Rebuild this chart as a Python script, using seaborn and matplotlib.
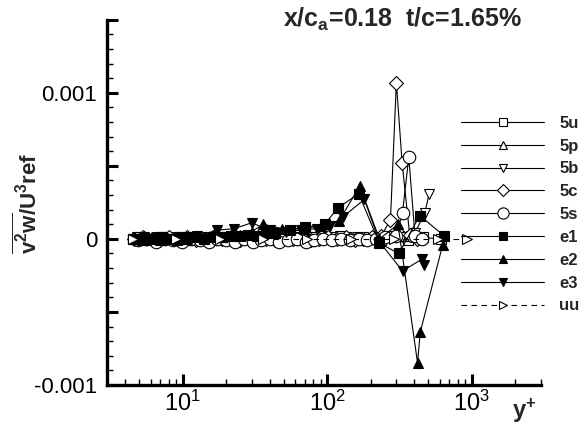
import numpy as np
import matplotlib
matplotlib.use('Agg')
import matplotlib.pyplot as plt
import matplotlib.ticker as mticker
import seaborn as sns

sns.set_style('white')
plt.rcParams['font.family'] = ['Liberation Sans', 'DejaVu Sans']
plt.rcParams['mathtext.fontset'] = 'custom'
plt.rcParams['mathtext.rm'] = 'Liberation Sans'
plt.rcParams['mathtext.it'] = 'Liberation Sans:italic'
plt.rcParams['mathtext.bf'] = 'Liberation Sans:bold'

# y+ positions and v2w/U3ref values (values in units of 1e-4)
yp_5u = [4.5, 5.2, 6.0, 6.9, 8.0, 9.2, 10.6, 12.2, 14.1, 16.2, 18.7, 21.5, 24.8, 28.5, 32.8, 37.8,
         43.5, 50.1, 57.7, 66.4, 76.5, 88.1, 101, 117, 134, 155, 178, 205, 236, 272, 313, 360, 414, 460, 610]
v_5u = [0.0, 0.1, -0.1, 0.0, 0.1, -0.1, 0.0, 0.1, 0.0, -0.1, 0.1, 0.0, 0.1, 0.0, -0.1, 0.1,
        0.0, 0.1, 0.0, -0.1, 0.1, 0.0, 0.1, 0.0, 0.1, 0.0, 0.1, 0.0, -0.1, 0.1, 0.2, -0.1, 0.1, 0.1, 0.0]

yp_5p = [4.7, 5.4, 6.2, 7.2, 8.3, 9.5, 11.0, 12.6, 14.5, 16.7, 19.3, 22.2, 25.5, 29.4, 33.8, 38.9,
         44.8, 51.6, 59.4, 68.4, 78.8, 90.7, 104, 120, 138, 160, 184, 211, 243, 280, 322, 371]
v_5p = [0.0, -0.1, 0.1, 0.0, 0.1, 0.0, -0.1, 0.1, 0.0, 0.1, 0.0, -0.1, 0.1, 0.0, 0.2, 0.0,
        0.1, -0.1, 0.1, 0.0, 0.1, 0.0, 0.1, 0.0, 0.1, 0.1, 0.0, 0.1, 0.2, 0.1, 0.5, 0.2]

yp_5b = [4.8, 5.5, 6.4, 7.3, 8.4, 9.7, 11.2, 12.9, 14.8, 17.0, 19.6, 22.6, 26.0, 30.0, 34.5, 39.7,
         45.7, 52.6, 60.5, 69.7, 80.2, 92.3, 106, 122, 141, 162, 187, 215, 248, 285, 328, 378, 405, 474, 508]
v_5b = [0.1, 0.0, -0.1, 0.1, 0.0, 0.1, -0.1, 0.0, 0.1, 0.0, 0.1, -0.1, 0.0, 0.1, 0.0, 0.2,
        0.1, 0.0, 0.1, -0.1, 0.1, 0.0, 0.1, 0.2, 0.0, 0.1, 0.0, 0.1, 0.0, 0.2, 0.1, 0.2, 0.4, 1.8, 3.1]

yp_5c = [4.6, 5.3, 6.1, 7.0, 8.1, 9.3, 10.7, 12.3, 14.2, 16.3, 18.8, 21.6, 24.9, 28.6, 33.0, 38.0,
         43.7, 50.3, 57.9, 66.6, 76.7, 88.3, 102, 117, 135, 155, 178, 205, 236, 274, 301, 330, 372, 420]
v_5c = [0.0, 0.1, 0.0, -0.1, 0.1, 0.0, 0.1, -0.1, 0.0, 0.1, 0.0, 0.1, -0.1, 0.0, 0.1, 0.0,
        -0.1, 0.1, 0.0, 0.1, -0.1, 0.0, 0.1, 0.0, 0.1, -0.1, 0.0, 0.1, 0.2, 1.3, 10.7, 5.2, 0.3, 0.0]

yp_5s = [4.9, 5.6, 6.5, 7.5, 8.6, 9.9, 11.4, 13.1, 15.1, 17.4, 20.0, 23.0, 26.5, 30.5, 35.1, 40.4,
         46.5, 53.5, 61.6, 70.9, 81.6, 94.0, 108, 124, 143, 165, 190, 219, 252, 300, 332, 367, 405, 450]
v_5s = [-0.1, 0.0, -0.2, 0.0, -0.1, -0.2, 0.0, -0.1, -0.2, 0.0, -0.1, -0.2, 0.0, -0.2, -0.1, 0.0,
        -0.2, -0.1, 0.0, -0.2, -0.1, 0.0, -0.1, 0.0, -0.1, 0.0, -0.1, 0.0, 0.1, 0.2, 1.8, 5.6, 0.2, 0.0]

yp_e1 = [4.5, 5.2, 6.0, 6.9, 8.0, 9.2, 10.6, 12.2, 14.1, 16.2, 18.7, 21.5, 24.8, 28.5, 32.8, 37.8,
         43.5, 55, 70, 96, 118, 165, 230, 314, 437, 645]
v_e1 = [0.0, -0.1, 0.0, 0.1, 0.0, -0.1, 0.0, 0.1, 0.0, 0.1, 0.1, 0.2, 0.2, 0.3, 0.2, 0.4,
        0.4, 0.6, 0.8, 1.0, 2.1, 3.1, -0.3, -1.0, 1.6, 0.2]

yp_e2 = [4.6, 5.3, 6.1, 7.0, 8.1, 9.3, 10.7, 12.3, 14.2, 16.3, 18.8, 21.6, 24.9, 30.0, 36.2, 49,
         69, 91, 120, 168, 230, 309, 422, 440, 630]
v_e2 = [0.1, 0.0, 0.1, -0.1, 0.0, 0.1, 0.0, 0.1, 0.1, 0.2, 0.1, 0.3, 0.3, 0.5, 1.0, 0.7,
        0.7, 0.9, 1.2, 3.6, 0.0, 1.0, -8.5, -6.4, -0.4]

yp_e3 = [4.7, 5.4, 6.2, 7.2, 8.3, 9.5, 11.0, 12.6, 17.4, 22.7, 30.0, 40, 52, 66, 85, 105,
         128, 181, 230, 332, 450, 470]
v_e3 = [0.0, 0.1, 0.0, 0.1, 0.0, 0.1, 0.1, 0.2, 0.6, 0.7, 1.1, 0.6, 0.5, 0.6, 0.7, 0.9,
        1.5, 2.7, -0.2, -2.2, -1.4, -1.8]

yp_uu = [4.5, 9.0, 18, 36, 72, 145, 290, 580, 922]
v_uu = [0.0, 0.0, 0.0, 0.0, 0.0, 0.0, 0.0, 0.0, 0.0]

labels = ['5u', '5p', '5b', '5c', '5s', 'e1', 'e2', 'e3', 'uu']
series = [(yp_5u, v_5u), (yp_5p, v_5p), (yp_5b, v_5b), (yp_5c, v_5c), (yp_5s, v_5s),
          (yp_e1, v_e1), (yp_e2, v_e2), (yp_e3, v_e3), (yp_uu, v_uu)]
markers = ['s', '^', 'v', 'D', 'o', 's', '^', 'v', '>']
msizes = [6.5, 7, 7, 7, 9, 6.5, 7, 7, 7]
faces = ['white'] * 5 + ['black'] * 3 + ['white']
styles = ['-'] * 8 + ['--']

fig = plt.figure(figsize=(5.82, 4.32), dpi=100)
ax = fig.add_axes([0.184, 0.109, 0.745, 0.845])

for (x, v), lab, m, ms, fc, ls in zip(series, labels, markers, msizes, faces, styles):
    sns.lineplot(x=x, y=np.array(v) * 1e-4, ax=ax, color='black', lw=0.8, ls=ls,
                 marker=m, markersize=ms, markerfacecolor=fc, markeredgecolor='black',
                 markeredgewidth=0.8, label=lab, errorbar=None, estimator=None, sort=False)
ax.get_lines()[-1].set_dashes([5, 4])

ax.set_xscale('log')
ax.set_xlim(3, 3000)
ax.set_ylim(-0.001, 0.0015)
ax.xaxis.set_major_locator(mticker.LogLocator(base=10, numticks=10))
ax.xaxis.set_major_formatter(mticker.LogFormatterMathtext())
ax.xaxis.set_minor_locator(mticker.LogLocator(base=10, subs=np.arange(2, 10), numticks=20))
ax.xaxis.set_minor_formatter(mticker.NullFormatter())
ax.set_yticks([-0.001, -0.0005, 0, 0.0005, 0.001, 0.0015])
ax.set_yticklabels(['-0.001', '', '0', '', '0.001', ''])
ax.yaxis.set_minor_locator(mticker.MultipleLocator(0.0001))

for s in ['top', 'right']:
    ax.spines[s].set_visible(False)
for s in ['left', 'bottom']:
    ax.spines[s].set_linewidth(2.4)
    ax.spines[s].set_color('black')
ax.tick_params(which='both', bottom=True, left=True, top=False, right=False)
ax.tick_params(which='major', direction='in', length=8, width=2.2, colors='black')
ax.tick_params(which='minor', direction='in', length=4, width=1.0, colors='black')
ax.tick_params(axis='y', which='major', labelsize=16, pad=7)
ax.tick_params(axis='x', which='major', labelsize=17, pad=4)
ax.set_xlabel('')
ax.set_ylabel('')

h, l = ax.get_legend_handles_labels()
ax.get_legend().remove()
h[-1].set_dashes([5, 4])
fig.legend(h, l, loc='upper left', bbox_to_anchor=(0.792, 0.732), frameon=False,
           handlelength=5.0, handletextpad=0.9, labelspacing=0.47, borderpad=0,
           borderaxespad=0, numpoints=1, markerscale=0.9, prop={'weight': 'bold', 'size': 12})

fig.text(0.486, 0.954, r'x/c$_\mathbf{a}$=0.18  t/c=1.65%', fontsize=18, weight='bold',
         ha='left', va='center')
fig.text(0.048, 0.53, r'$\mathbf{\overline{v^2w}/U^3ref}$', fontsize=16, rotation=90,
         ha='center', va='center')
fig.text(0.9, 0.05, r'y$^\mathbf{+}$', fontsize=17, weight='bold', ha='center', va='center')

fig.savefig('out.png', dpi=100)
